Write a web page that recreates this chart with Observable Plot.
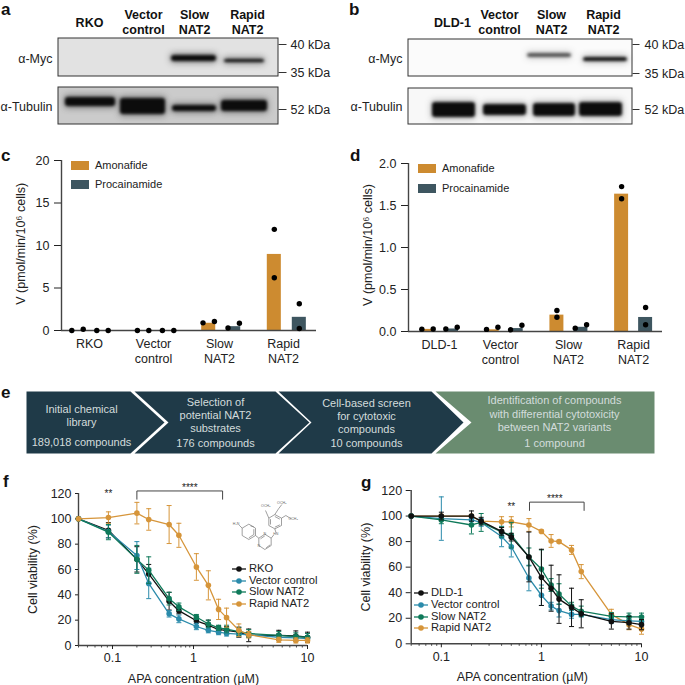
<!DOCTYPE html>
<html>
<head>
<meta charset="utf-8">
<script src="https://cdn.jsdelivr.net/npm/d3@7"></script>
<script src="https://cdn.jsdelivr.net/npm/@observablehq/plot@0.6"></script>
<style>
html,body{margin:0;padding:0;background:#fff;}
#page{position:relative;width:685px;height:685px;overflow:hidden;font-family:"Liberation Sans",Arial,sans-serif;color:#222;}
#page svg{position:absolute;overflow:visible;background:transparent;}
.abs{position:absolute;white-space:nowrap;line-height:1;}
.letter{position:absolute;font-weight:bold;font-size:17px;line-height:1;color:#111;}
</style>
</head>
<body>
<div id="page"></div>
<script>
// ---------- colours ----------
const AMON = "#cd8b30", PROC = "#3e5660";
const NAVY = "#1f3a48", SAGE = "#6a8c70";
const BLACK = "#111111", TEAL = "#2b8bab", GREEN = "#0f7a5a", ORANGE = "#d6953a";
const INK = "#222222", SPINE = "#444444";

// ---------- panels a, b: blots (gel positions measured on the picture) ----------
const aLaneNames = ["RKO", "Vector\ncontrol", "Slow\nNAT2", "Rapid\nNAT2"];
const aLaneX = [89, 143, 194, 247];
const bLaneNames = ["DLD-1", "Vector\ncontrol", "Slow\nNAT2", "Rapid\nNAT2"];
const bLaneX = [452, 499, 551, 603];
const kdaLabels = ["40 kDa", "35 kDa", "52 kDa"];
const aKdaY = [44, 72, 109];
const bKdaY = [44, 73, 109];
const probeLabels = ["α-Myc", "α-Tubulin"];
const probeY = [58, 106];
const aBandX1 = [171, 224, 65, 120, 172, 221];
const aBandX2 = [216, 264, 115, 165, 216, 267];
const aBandY1 = [55, 59, 97, 98, 105, 100];
const aBandY2 = [61, 62, 106, 114, 111, 111];
const bBandX1 = [527, 583, 432, 483, 533, 579];
const bBandX2 = [571, 627, 475, 526, 575, 622];
const bBandY1 = [53, 57, 102, 104, 103, 102];
const bBandY2 = [57, 61, 117, 115, 116, 116];
const bBandShade = [0.65, 0.97, 1, 1, 1, 1];

// ---------- panels c, d: bars and replicates ----------
const cLabels = ["RKO", "Vector\ncontrol", "Slow\nNAT2", "Rapid\nNAT2"];
const dLabels = ["DLD-1", "Vector\ncontrol", "Slow\nNAT2", "Rapid\nNAT2"];
const cAmonMean = [0, 0, 0.85, 8.95];
const cProcMean = [0, 0, 0.45, 1.55];
const cAmonReps = [[0, 0.15], [0, 0], [0.9, 1.06], [11.9, 6.2]];
const cProcReps = [[0, 0], [0, 0], [0.3, 0.86], [3.14, 0.23]];
const cAmonJitter = [1, 1, 1, 0];
const cProcJitter = [1, 1, 1, 0];
const dAmonMean = [0.025, 0.02, 0.195, 1.635];
const dProcMean = [0.03, 0.035, 0.05, 0.167];
const dAmonReps = [[0.028, 0.03], [0.025, 0.05], [0.25, 0.17], [1.725, 1.58]];
const dProcReps = [[0.03, 0.05], [0.02, 0.075], [0.04, 0.08], [0.285, 0.08]];
const dAmonJitter = [1, 1, 0, 0];
const dProcJitter = [1, 1, 1, 0];

// ---------- panel e: pipeline ----------
const stepLines = [
  ["Initial chemical", "library", "189,018 compounds"],
  ["Selection of", "potential NAT2", "substrates", "176 compounds"],
  ["Cell-based screen", "for cytotoxic", "compounds", "10 compounds"],
  ["Identification of compounds", "with differential cytotoxicity", "between NAT2 variants", "1 compound"]
];
const stepLineY = [
  [409, 422, 442],
  [402, 415, 428, 443],
  [403, 416, 429, 443],
  [400, 414, 427, 443]
];
const stepCenter = [81, 215, 366, 554];
const stepLeft = [26, 134, 278, 435];
const stepNotch = [26, 168, 311, 471];
const stepRight = [130, 275, 431, 654];
const stepTip = [164, 309, 463, 654];

// ---------- panel f ----------
const fConc = [0.05, 0.092, 0.2, 0.28, 0.5, 0.66, 1.06, 1.35, 1.66, 1.95, 2.5, 3.05, 5.6, 7.9, 10];
const fRKO = [100, 91, 68, 56.5, 35, 27.5, 19.5, 16, 12.5, 12, 10.5, 8, 8, 7.5, 6.5];
const fRKOErr = [0, 6, 10, 7.5, 7, 2.5, 2, 4, 3, 3, 4, 5, 4, 4, 4];
const fVector = [100, 90, 71, 49, 25, 21, 15, 12, 10.5, 9.5, 9, 8.5, 6.5, 6, 5.5];
const fVectorErr = [0, 5, 11, 12, 2.5, 3, 2.5, 2, 2, 2, 2, 2, 2, 2, 2];
const fSlow = [100, 89.5, 68, 59.5, 37, 30.5, 22.5, 17, 14, 13, 11, 9.5, 8, 7, 6.5];
const fSlowErr = [0, 6, 11, 10.5, 5, 3, 2, 3, 2, 3, 3, 3, 3, 3, 3];
const fRapid = [100, 101, 104.5, 99.5, 95.5, 87, 62, 47.5, 28.5, 22, 12, 8.5, 4.5, 4, 4];
const fRapidErr = [0, 4.5, 8.5, 8.5, 15, 9.5, 10.5, 11.5, 8, 7.5, 5, 2.6, 2, 2, 2];
const fBracketX = [0.2, 0.2, 1.8, 1.8];
const fBracketY = [115.5, 122, 122, 115.5];

// ---------- panel g ----------
const gConc = [0.05, 0.1, 0.2, 0.25, 0.4, 0.5, 0.75, 1, 1.25, 1.5, 2, 2.5, 5, 7.5, 10];
const gDLD = [100, 100, 100, 96, 88, 83.5, 68, 52, 43.5, 35, 28.5, 23.5, 17.5, 16.5, 15];
const gDLDErr = [0, 3, 4, 3, 3, 3, 19.5, 22, 18, 19, 15, 11, 6, 5, 4];
const gVector = [100, 98, 97, 95, 84, 76, 51.5, 38, 29.5, 26, 23, 23, 19, 18, 17.5];
const gVectorErr = [0, 17, 4, 3, 8, 8, 10, 8, 3, 5, 3, 2, 3, 3, 3];
const gSlow = [100, 97, 93, 95, 87.5, 85, 68, 58.5, 46, 39, 29.5, 25.5, 21.5, 21, 21];
const gSlowErr = [0, 3, 7, 7, 4, 10, 7, 15, 5, 8, 3, 4, 3, 3, 3];
const gRapid = [100, 100, 100, 96, 95.5, 95.5, 93, 88, 80.5, 80, 73.5, 56.5, 23, 15, 11.5];
const gRapidErr = [0, 0, 0, 1, 4, 4, 5, 1, 5, 1, 3.5, 5.5, 4, 4, 4];
const gBracketX = [0.76, 0.76, 2.67, 2.67];
const gBracketY = [104.4, 110.9, 110.9, 104.4];

// log-axis ticks
const decadeTicks = [0.1, 1, 10];
const minorTicks = [0.05, 0.06, 0.07, 0.08, 0.09, 0.2, 0.3, 0.4, 0.5, 0.6, 0.7, 0.8, 0.9, 2, 3, 4, 5, 6, 7, 8, 9];
const viabilityTicks = [0, 20, 40, 60, 80, 100, 120];

// ---------- structure drawing in panel f ----------
const bondFrom = [[85,116],[105,128],[105,150],[85,162],[65,150],[65,128],[90,121],[100,131],[100,147],[65,128],
  [105,150],[115,158],[133,146],[152,158],[152,180],[133,192],[115,180],[120,160],[137,187],[152,158],[166,140],
  [163,87],[183,98],[183,120],[163,130],[145,120],[145,98],[163,93],[178,118],[150,117],
  [145,98],[163,87],[174,70],[183,98],[196,90]];
const bondTo = [[105,128],[105,150],[85,162],[65,150],[65,128],[85,116],[100,124],[100,147],[85,157],[56,119],
  [115,158],[133,146],[152,158],[152,180],[133,192],[115,180],[115,158],[133,151],[149,178],[160,148],[163,130],
  [183,98],[183,120],[163,130],[145,120],[145,98],[163,87],[178,101],[163,125],[150,101],
  [135,75],[174,70],[184,57],[196,90],[212,100]];
const atomLabels = ["H₂N", "N", "N", "HN", "OCH₃", "OCH₃", "OCH₃"];
const atomX = [47, 133, 115, 166, 136, 184, 218];
const atomY = [116, 146, 180, 145, 62, 52, 101];

// ---------- helpers ----------
const page = document.getElementById("page");
const FONT = '"Liberation Sans",Arial,sans-serif';
function mount(box, opts) {
  const svg = Plot.plot({width: box.w, height: box.h, ...opts,
    style: {fontFamily: FONT, background: "transparent", overflow: "visible"}});
  svg.style.left = box.x + "px";
  svg.style.top = box.y + "px";
  page.appendChild(svg);
  return svg;
}
function letter(t, x, y) {
  const el = document.createElement("div");
  el.className = "letter"; el.textContent = t;
  el.style.left = x + "px"; el.style.top = y + "px";
  page.appendChild(el);
}
function label(t, x, y, size) {
  const el = document.createElement("div");
  el.className = "abs"; el.textContent = t;
  el.style.left = x + "px"; el.style.top = (y - size / 2) + "px";
  el.style.fontSize = size + "px";
  page.appendChild(el);
  return el;
}
function barLegend(x, y1, y2, textX) {
  [[AMON, "Amonafide", y1], [PROC, "Procainamide", y2]].forEach(([c, t, y]) => {
    const s = document.createElement("div");
    s.className = "abs";
    s.style.cssText += `left:${x}px;top:${y - 4.5}px;width:18px;height:9px;background:${c}`;
    page.appendChild(s);
    label(t, textX, y, 11);
  });
}
function lineLegend(entries, x, textX) {
  entries.forEach(([c, t, y]) => {
    const ns = "http://www.w3.org/2000/svg";
    const s = document.createElementNS(ns, "svg");
    s.setAttribute("width", 14); s.setAttribute("height", 8);
    s.style.left = x + "px"; s.style.top = (y - 4) + "px";
    s.innerHTML = `<line x1="0" y1="4" x2="14" y2="4" stroke="${c}" stroke-width="1.3"/><circle cx="7" cy="4" r="2.8" fill="${c}"/>`;
    page.appendChild(s);
    label(t, textX, y, 11.2);
  });
}

// ---------- blots ----------
function blot(box, frameX, rows, bandSets, laneX, laneNames, kdaY, tickX, kdaX, probeX, bgs, halo) {
  const xd = [box.x, box.x + box.w], yd = [box.y, box.y + box.h];
  const bandRows = bandSets.x1.map((_, i) => i);
  const shade = i => bandSets.shade ? bandSets.shade[i] : 1;
  mount(box, {
    margin: 0,
    x: {domain: xd, axis: null},
    y: {domain: yd, range: [0, box.h], axis: null},
    marks: [
      Plot.rect(rows, {x1: () => frameX[0], x2: () => frameX[1], y1: r => r[0], y2: r => r[1], fill: (_, i) => bgs[i]}),
      Plot.rect(bandRows, {x1: i => bandSets.x1[i] - 1, x2: i => bandSets.x2[i] + 1, y1: i => bandSets.y1[i] - 2, y2: i => bandSets.y2[i] + 2,
        fill: "#222", fillOpacity: i => halo * shade(i), rx: 4, imageFilter: "blur(3px)"}),
      Plot.rect(bandRows, {x1: i => bandSets.x1[i], x2: i => bandSets.x2[i], y1: i => bandSets.y1[i], y2: i => bandSets.y2[i],
        fill: "#0c0c0c", fillOpacity: shade, rx: 3, imageFilter: "blur(1.6px)"}),
      Plot.rect(rows, {x1: () => frameX[0], x2: () => frameX[1], y1: r => r[0], y2: r => r[1], fill: "none", stroke: "#333", strokeWidth: 1}),
      Plot.link(kdaY, {x1: () => frameX[1], x2: () => tickX, y1: d => d, y2: d => d, stroke: "#333", strokeWidth: 1}),
      Plot.text(kdaY, {x: () => kdaX, y: d => d, text: (_, i) => kdaLabels[i], textAnchor: "start", fontSize: 12.5, fill: INK}),
      Plot.text(probeY, {x: () => probeX, y: d => d, text: (_, i) => probeLabels[i], textAnchor: "end", fontSize: 12.5, fill: INK}),
      Plot.text(laneX, {x: d => d, y: () => 21, text: (_, i) => laneNames[i], fontSize: 12.5, fontWeight: "bold", lineHeight: 1.25, fill: "#111"})
    ]
  });
}
blot({x: 0, y: 0, w: 345, h: 140}, [58, 278], [[38, 76], [87, 124]],
  {x1: aBandX1, x2: aBandX2, y1: aBandY1, y2: aBandY2},
  aLaneX, aLaneNames, aKdaY, 286, 290, 52, ["#e2e2e2", "#cbcbcb"], 0.45);
blot({x: 345, y: 0, w: 340, h: 140}, [408, 632], [[39, 76], [88, 124]],
  {x1: bBandX1, x2: bBandX2, y1: bBandY1, y2: bBandY2, shade: bBandShade},
  bLaneX, bLaneNames, bKdaY, 639, 644, 402, ["#fbfbfb", "#f8f8f8"], 0.3);

// ---------- bar panels ----------
function barPanel(box, o) {
  const bars = [], dots = [];
  [[o.amonMean, o.amonReps, o.amonJitter, 0, AMON], [o.procMean, o.procReps, o.procJitter, o.procShift, PROC]].forEach(([m, reps, jit, shift, c]) => {
    m.forEach((v, i) => {
      bars.push({x: i + shift, v, c});
      reps[i].forEach((r, k) => dots.push({x: i + shift + (k ? 1 : -1) * jit[i] * o.jitter, v: r}));
    });
  });
  const hw = o.barHalf;
  mount(box, {
    marginLeft: o.left, marginRight: o.right, marginTop: o.top, marginBottom: o.bottom,
    x: {domain: o.xDomain, axis: null},
    y: {domain: o.yDomain, axis: null},
    marks: [
      Plot.rectY(bars, {x1: d => d.x - hw, x2: d => d.x + hw, y1: () => 0, y2: "v", fill: "c"}),
      Plot.ruleX([o.xDomain[0]], {stroke: SPINE, strokeWidth: 1.4}),
      Plot.ruleY([0], {stroke: SPINE, strokeWidth: 1.4}),
      Plot.axisY({ticks: o.yTicks, tickFormat: o.yFormat, tickSize: 7, tickPadding: 5, fontSize: 12.5, color: INK, label: null}),
      Plot.axisX({ticks: o.catX, tickFormat: (_, i) => o.labels[i], tickSize: 0, tickPadding: o.catPad, fontSize: 12.5, color: INK, lineHeight: 1.25, label: null}),
      Plot.dot(dots, {x: "x", y: "v", r: 2.7, fill: "#000"}),
      Plot.text(["V (pmol/min/10⁶ cells)"], {frameAnchor: "left", dx: o.titleDx, y: () => o.titleY, rotate: -90, textAnchor: "middle", text: d => d, fontSize: 12.5, fill: INK})
    ]
  });
}
barPanel({x: 0, y: 140, w: 345, h: 230}, {
  left: 61, right: 29, top: 20, bottom: 40,
  xDomain: [-0.244, 3.643], yDomain: [0, 20], yTicks: [0, 5, 10, 15, 20], yFormat: d => String(d),
  labels: cLabels, catX: [0.183, 1.159, 2.165, 3.14], catPad: 6,
  amonMean: cAmonMean, procMean: cProcMean, amonReps: cAmonReps, procReps: cProcReps,
  amonJitter: cAmonJitter, procJitter: cProcJitter, procShift: 0.381, jitter: 0.087, barHalf: 0.107,
  titleDx: -41, titleY: 10.2
});
barPanel({x: 345, y: 140, w: 340, h: 230}, {
  left: 63, right: 23, top: 23, bottom: 39,
  xDomain: [-0.294, 3.632], yDomain: [0, 2], yTicks: [0, 0.5, 1, 1.5, 2], yFormat: d3.format(".1f"),
  labels: dLabels, catX: [0.185, 1.128, 2.18, 3.185], catPad: 6,
  amonMean: dAmonMean, procMean: dProcMean, amonReps: dAmonReps, procReps: dProcReps,
  amonJitter: dAmonJitter, procJitter: dProcJitter, procShift: 0.371, jitter: 0.088, barHalf: 0.108,
  titleDx: -41, titleY: 1.03
});
barLegend(71, 165.5, 184.5, 95);
barLegend(418, 168.5, 188.5, 442);

// ---------- pipeline ----------
const chevrons = [];
stepLeft.forEach((l, i) => {
  const fill = i === 3 ? SAGE : NAVY;
  [[l, 391], [stepRight[i], 391], [stepTip[i], 422], [stepRight[i], 453], [l, 453], [stepNotch[i], 422]]
    .forEach(([x, y]) => chevrons.push({step: i, x, y, fill}));
});
const stepText = stepLines.flatMap((lines, i) => lines.map((t, k) => ({t, x: stepCenter[i], y: stepLineY[i][k]})));
mount({x: 0, y: 380, w: 685, h: 85}, {
  margin: 0,
  x: {domain: [0, 685], axis: null},
  y: {domain: [380, 465], range: [0, 85], axis: null},
  marks: [
    Plot.line(chevrons, {x: "x", y: "y", z: "step", fill: "fill", stroke: "none", curve: "linear-closed"}),
    Plot.text(stepText, {x: "x", y: "y", text: "t", fill: "#d3dcdc", fontSize: 11})
  ]
});

// ---------- dose response ----------
const capSymbol = {draw(c, size) { const r = Math.sqrt(size / Math.PI); c.moveTo(-r, 0); c.lineTo(r, 0); }};
function doseMarks(conc, series) {
  return series.flatMap(([vals, errs, color]) => {
    const rows = conc.map((x, i) => ({x, v: vals[i], lo: vals[i] - errs[i], hi: vals[i] + errs[i]}));
    const e = rows.filter((_, i) => errs[i] > 0);
    return [
      Plot.ruleX(e, {x: "x", y1: "lo", y2: "hi", stroke: color, strokeWidth: 1}),
      Plot.dot(e, {x: "x", y: "lo", symbol: capSymbol, r: 2.5, stroke: color, fill: "none", strokeWidth: 1}),
      Plot.dot(e, {x: "x", y: "hi", symbol: capSymbol, r: 2.5, stroke: color, fill: "none", strokeWidth: 1}),
      Plot.line(rows, {x: "x", y: "v", stroke: color, strokeWidth: 1.3}),
      Plot.dot(rows, {x: "x", y: "v", r: 2.8, fill: color})
    ];
  });
}
function dosePanel(box, o) {
  const bracket = o.bracketX.map((x, i) => ({x, y: o.bracketY[i]}));
  mount(box, {
    marginLeft: o.left, marginRight: o.right, marginTop: o.top, marginBottom: o.bottom,
    x: o.xScale,
    y: {domain: [0, 120], axis: null},
    marks: [
      Plot.ruleX([0.05], {stroke: SPINE, strokeWidth: 1.4}),
      Plot.ruleY([0], {stroke: SPINE, strokeWidth: 1.4}),
      Plot.axisY({ticks: viabilityTicks, tickSize: o.ySize, tickPadding: 4, fontSize: 12.5, color: INK, label: null}),
      Plot.axisX({ticks: minorTicks, tickFormat: () => "", tickSize: 2.5, color: SPINE, label: null}),
      Plot.axisX({ticks: decadeTicks, tickFormat: d => String(d), tickSize: 4, tickPadding: 4, fontSize: 12.5, color: INK, label: null}),
      ...doseMarks(o.conc, o.series),
      Plot.line(bracket, {x: "x", y: "y", stroke: SPINE, strokeWidth: 1}),
      Plot.text([o.starsWide], {x: d => d.x, y: d => d.y, text: d => d.t, fontSize: 10, fill: INK}),
      Plot.text([o.starsNarrow], {x: d => d.x, y: d => d.y, text: d => d.t, fontSize: 10, fill: INK}),
      Plot.text(["APA concentration (µM)"], {x: () => o.titleX, frameAnchor: "bottom", dy: 33, lineAnchor: "middle", text: d => d, fontSize: 12.5, fill: INK}),
      Plot.text(["Cell viability (%)"], {frameAnchor: "left", dx: o.titleDx, y: () => 60, rotate: -90, textAnchor: "middle", text: d => d, fontSize: 12.5, fill: INK})
    ]
  });
}
dosePanel({x: 0, y: 465, w: 345, h: 220}, {
  left: 78, right: 38, top: 28, bottom: 40, ySize: 3,
  xScale: {type: "log", domain: [0.05, 0.1, 1, 10], range: [78, 112, 193, 307], axis: null},
  conc: fConc,
  series: [[fRKO, fRKOErr, BLACK], [fVector, fVectorErr, TEAL], [fSlow, fSlowErr, GREEN], [fRapid, fRapidErr, ORANGE]],
  bracketX: fBracketX, bracketY: fBracketY,
  starsWide: {x: 0.9, y: 124.5, t: "****"}, starsNarrow: {x: 0.092, y: 119.5, t: "**"},
  titleX: 1, titleDx: -46
});
dosePanel({x: 345, y: 465, w: 340, h: 220}, {
  left: 65.7, right: 44, top: 25, bottom: 41.7, ySize: 5,
  xScale: {type: "log", domain: [0.05, 10], axis: null},
  conc: gConc,
  series: [[gRapid, gRapidErr, ORANGE], [gVector, gVectorErr, TEAL], [gSlow, gSlowErr, GREEN], [gDLD, gDLDErr, BLACK]],
  bracketX: gBracketX, bracketY: gBracketY,
  starsWide: {x: 1.36, y: 113.5, t: "****"}, starsNarrow: {x: 0.5, y: 107.5, t: "**"},
  titleX: 0.645, titleDx: -45
});
lineLegend([[BLACK, "RKO", 569], [TEAL, "Vector control", 580.5], [GREEN, "Slow NAT2", 592], [ORANGE, "Rapid NAT2", 603.5]], 232, 249);
lineLegend([[BLACK, "DLD-1", 593], [TEAL, "Vector control", 605], [GREEN, "Slow NAT2", 616.5], [ORANGE, "Rapid NAT2", 628]], 414, 431);

// ---------- structure ----------
mount({x: 220, y: 485, w: 110, h: 70}, {
  margin: 0,
  x: {domain: [0, 330], axis: null},
  y: {domain: [0, 210], range: [0, 70], axis: null},
  marks: [
    Plot.link(bondFrom.map((a, i) => ({a, b: bondTo[i]})), {x1: d => d.a[0], y1: d => d.a[1], x2: d => d.b[0], y2: d => d.b[1], stroke: "#777", strokeWidth: 0.7}),
    Plot.text(atomLabels, {x: (_, i) => atomX[i], y: (_, i) => atomY[i], text: d => d, fontSize: 3.6, fill: "#666"})
  ]
});

// ---------- letters ----------
letter("a", 1, 1); letter("b", 349, 1); letter("c", 1, 147); letter("d", 350, 147);
letter("e", 1, 384); letter("f", 3, 473); letter("g", 361, 474);
</script>
</body>
</html>
